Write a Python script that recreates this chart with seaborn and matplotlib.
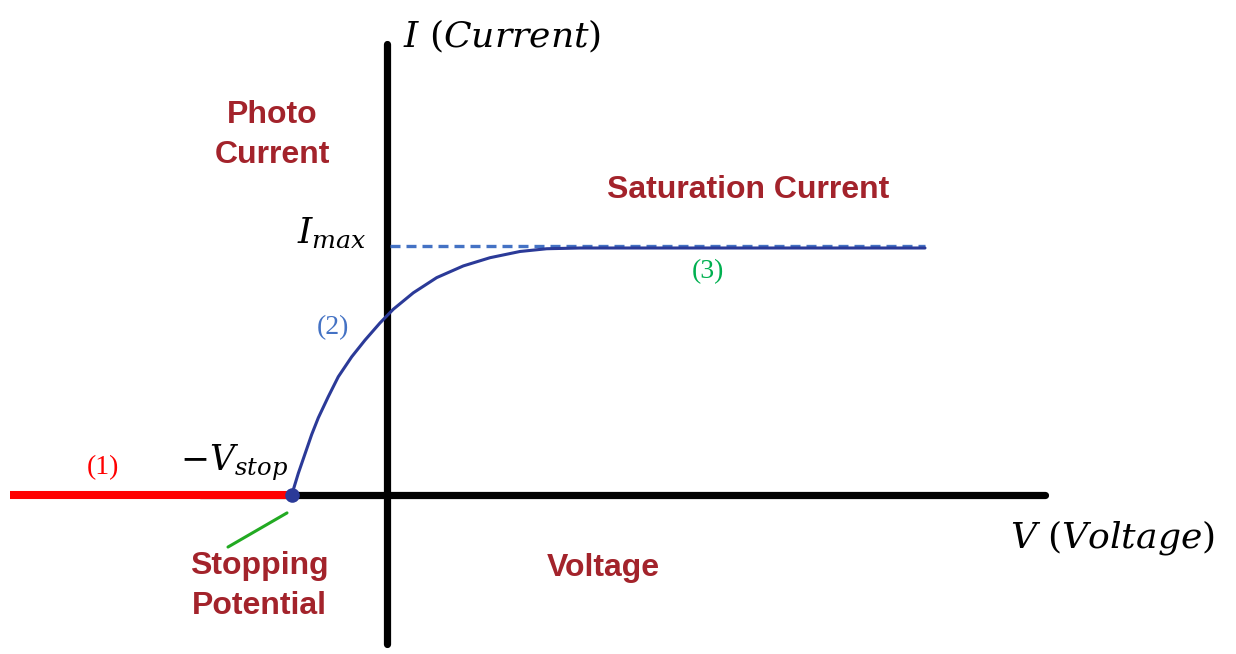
import matplotlib
matplotlib.use("Agg")
import matplotlib.pyplot as plt
import seaborn as sns

# Clean white canvas, axes drawn by hand
sns.set_theme(style="white")
plt.rcParams.update({
    'font.family': ['Liberation Sans', 'DejaVu Sans'],
    'mathtext.fontset': 'dejavuserif',
})

# Photocurrent curve (V in arbitrary units, I normalised so that I_max ~ 1)
curve_v = [-0.953, -0.887, -0.82, -0.753, -0.687, -0.587, -0.487, -0.353,
           -0.22, -0.07, 0.063, 0.263, 0.497, 0.763, 1.03, 1.33, 1.597,
           1.93, 5.38]
curve_i = [0.0, 0.087, 0.165, 0.243, 0.310, 0.395, 0.475, 0.555, 0.622,
           0.691, 0.746, 0.812, 0.873, 0.920, 0.953, 0.978, 0.989, 0.992,
           0.992]

# Region (1): no current below the stopping potential
stop_v = [-3.77, -0.953]
stop_i = [0.0, 0.0]

# Saturation level (dashed I_max guide)
sat_v = [0.03, 5.38]
sat_i = [1.0, 1.0]

# Axis extents
v_axis = [-1.87, 6.58]
i_axis = [-0.60, 1.81]

# Leader line to "Stopping Potential"
leader_v = [-1.59, -1.00]
leader_i = [-0.209, -0.072]

DARK_RED = "#a3232b"
NAVY = "#2b3a98"
DASH_BLUE = "#4472c4"


def main():
    fig = plt.figure(figsize=(12.36, 6.54), dpi=100)
    ax = fig.add_axes([0, 0, 1, 1])
    ax.set_xlim(-3.87, 8.49)
    ax.set_ylim(-0.6386, 1.988)
    ax.axis("off")

    # black axes
    ax.plot(v_axis, [0, 0], color="black", lw=5.2, solid_capstyle="round", zorder=1)
    ax.plot([0, 0], i_axis, color="black", lw=5.2, solid_capstyle="round", zorder=1)

    # dashed saturation guide
    sns.lineplot(x=sat_v, y=sat_i, ax=ax, color=DASH_BLUE, lw=2.4,
                 linestyle=(0, (3, 1.8)), zorder=2)

    # I-V curve
    sns.lineplot(x=curve_v, y=curve_i, ax=ax, color=NAVY, lw=2.2,
                 sort=False, zorder=3, solid_joinstyle="round")

    # red zero-current segment
    sns.lineplot(x=stop_v, y=stop_i, ax=ax, color="#ff0000", lw=5.8,
                 zorder=4, solid_capstyle="butt")

    # stopping potential dot
    ax.scatter([stop_v[1]], [0], s=110, color=NAVY, zorder=5, linewidths=0)

    # green leader
    sns.lineplot(x=leader_v, y=leader_i, ax=ax, color="#22aa22", lw=2.2,
                 zorder=2)

    # axis titles in math italics
    math_font = dict(color="black", va="baseline")
    ax.text(0.16, 1.799, r"$I\ (Current)$", fontsize=26, ha="left", **math_font)
    ax.text(6.23, -0.209, r"$V\ (Voltage)$", fontsize=26, ha="left", **math_font)
    ax.text(-0.20, 1.012, r"$I_{max}$", fontsize=26, ha="right", **math_font)
    ax.text(-2.07, 0.100, r"$-V_{stop}$", fontsize=25, ha="left", **math_font)

    # region numbers
    num_font = dict(family=["Liberation Serif", "DejaVu Serif"], fontsize=20,
                    ha="center", va="center")
    ax.text(-2.84, 0.108, "(1)", color="#ff0000", **num_font)
    ax.text(-0.54, 0.671, "(2)", color=DASH_BLUE, **num_font)
    ax.text(3.21, 0.896, "(3)", color="#00b050", **num_font)

    # dark red labels
    lab_font = dict(fontsize=23, fontweight="bold", color=DARK_RED,
                    ha="center", va="center", linespacing=1.45)
    ax.text(-1.15, 1.446, "Photo\nCurrent", **lab_font)
    ax.text(3.61, 1.225, "Saturation Current", **lab_font)
    ax.text(2.16, -0.293, "Voltage", **lab_font)
    ax.text(-1.28, -0.365, "Stopping\nPotential", **lab_font)

    fig.savefig("out.png", dpi=100, facecolor="white")
    plt.close(fig)


if __name__ == "__main__":
    main()
